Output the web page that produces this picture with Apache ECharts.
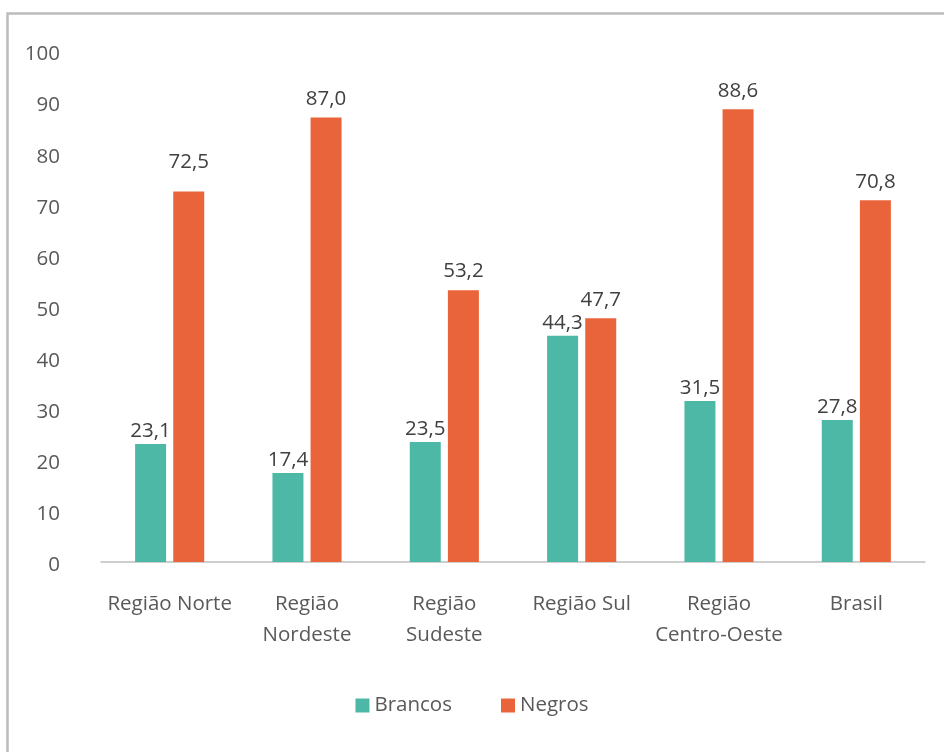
<!DOCTYPE html>
<html><head><meta charset="utf-8">
<script src="https://cdn.jsdelivr.net/npm/echarts@6/dist/echarts.min.js"></script>
<style>html,body{margin:0;padding:0;background:#fff;}#c{width:944px;height:752px;}</style>
</head><body><div id="c"></div>
<script>
const categories = ['Região Norte', 'Região\nNordeste', 'Região\nSudeste', 'Região Sul', 'Região\nCentro-Oeste', 'Brasil'];
const brancos = [23.1, 17.4, 23.5, 44.3, 31.5, 27.8];
const negros = [72.5, 87.0, 53.2, 47.7, 88.6, 70.8];
const yTicks = {min: 0, max: 100, interval: 10};

const font = '"Open Sans", sans-serif';
const fs = 20.5;
const fmt = p => p.value.toFixed(1).replace('.', ',');
// label placement as in the original (Norte's label sits higher above its bar)
const negrosData = negros.map((v, i) => i === 0 ? {value: v, label: {distance: 19}} : v);
const chart = echarts.init(document.getElementById('c'));
chart.setOption({
  animation: false,
  graphic: [{type: 'rect', shape: {x: 7.5, y: 13.5, width: 1000, height: 1000}, style: {fill: 'none', stroke: '#bcbcbc', lineWidth: 2.5}, silent: true}],
  grid: {left: 101, right: 19, top: 51, bottom: 190},
  legend: {
    data: ['Brancos', 'Negros'], top: 690, left: 'center', itemWidth: 14, itemHeight: 14, itemGap: 49,
    icon: 'rect', textStyle: {fontFamily: font, fontSize: fs, color: '#595959'}
  },
  xAxis: {
    type: 'category', data: categories,
    axisLine: {lineStyle: {color: '#bfbfbf', width: 1.5}},
    axisTick: {show: false},
    axisLabel: {fontFamily: font, fontSize: fs, color: '#595959', lineHeight: 31, margin: 27, interval: 0}
  },
  yAxis: {
    type: 'value', min: yTicks.min, max: yTicks.max, interval: yTicks.interval,
    splitLine: {show: false}, axisLine: {show: false}, axisTick: {show: false},
    axisLabel: {
      margin: 41, formatter: v => '{v|' + v + '}',
      rich: {v: {fontFamily: font, fontSize: fs, color: '#595959', padding: [7, 0, 0, 0]}}
    }
  },
  series: [
    {name: 'Brancos', type: 'bar', data: brancos, barWidth: 31, barGap: '23%',
     itemStyle: {color: '#4cb8a5'},
     label: {show: true, position: 'top', formatter: fmt, fontFamily: font, fontSize: fs, color: '#404040', distance: 2}},
    {name: 'Negros', type: 'bar', data: negrosData, barWidth: 31,
     itemStyle: {color: '#ea643b'},
     label: {show: true, position: 'top', formatter: fmt, fontFamily: font, fontSize: fs, color: '#404040', distance: 8}}
  ]
});
</script></body></html>
